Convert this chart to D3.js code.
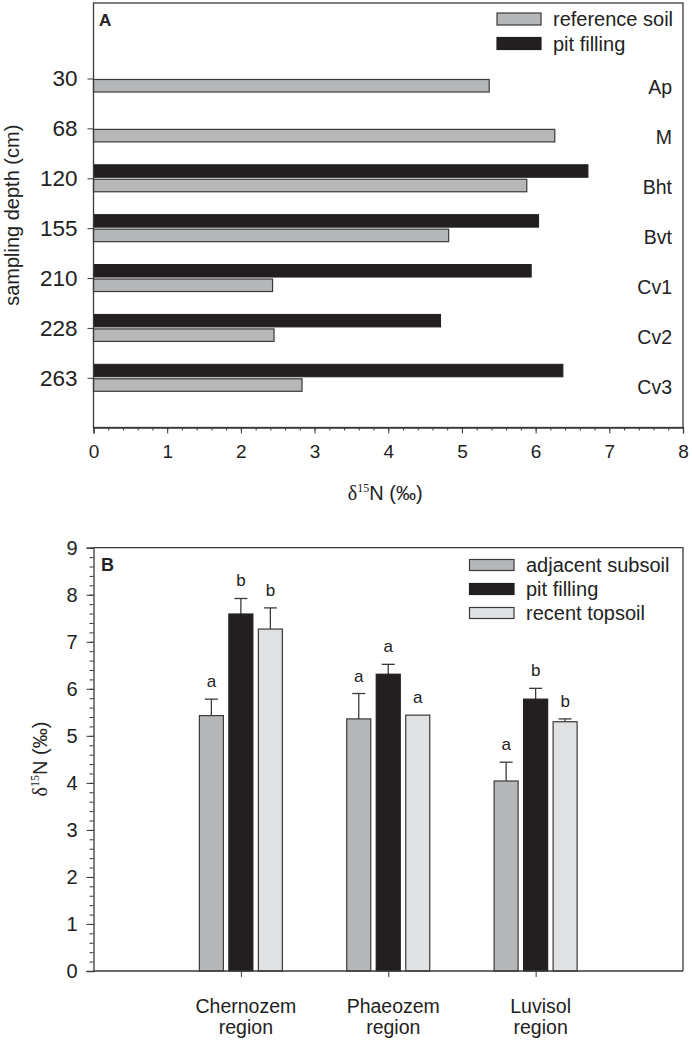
<!DOCTYPE html>
<html>
<head>
<meta charset="utf-8">
<script src="https://cdn.jsdelivr.net/npm/d3@7"></script>
<style>
  body { margin: 0; background: #fff; }
  svg { display: block; font-family: "Liberation Sans", Arial, sans-serif; }
</style>
</head>
<body>
<svg id="chart" width="692" height="1043"></svg>
<script>
// ---------- Panel A data ----------
const depths = ["30", "68", "120", "155", "210", "228", "263"];
const horizons = ["Ap", "M", "Bht", "Bvt", "Cv1", "Cv2", "Cv3"];
const referenceSoil = [5.37, 6.26, 5.88, 4.82, 2.43, 2.45, 2.83];
const pitFillingA = [null, null, 6.71, 6.04, 5.94, 4.71, 6.37];
const xTicksA = [0, 1, 2, 3, 4, 5, 6, 7, 8];
const legendA = ["reference soil", "pit filling"];

// ---------- Panel B data ----------
const regions = [["Chernozem", "region"], ["Phaeozem", "region"], ["Luvisol", "region"]];
const seriesB = ["adjacent subsoil", "pit filling", "recent topsoil"];
const adjacentSubsoil = [5.43, 5.36, 4.04];
const adjacentSubsoilErr = [0.35, 0.54, 0.40];
const pitFillingB = [7.59, 6.31, 5.78];
const pitFillingBErr = [0.33, 0.21, 0.23];
const recentTopsoil = [7.27, 5.44, 5.30];
const recentTopsoilErr = [0.45, 0.0, 0.06];
const lettersAdjacent = ["a", "a", "a"];
const lettersPit = ["b", "a", "b"];
const lettersTopsoil = ["b", "a", "b"];
const yTicksB = [0, 1, 2, 3, 4, 5, 6, 7, 8, 9];

const GRAY = "#b5b7b9", BLACK = "#231f20", LIGHT = "#e0e1e3", STROKE = "#3a3a3a", TXT = "#222";
const SANS = "Liberation Sans, Arial, sans-serif", SERIF = "Liberation Serif, Times New Roman, serif";

const svg = d3.select("#chart");
svg.append("rect").attr("width", 692).attr("height", 1043).attr("fill", "#fff");

function deltaTitle(sel) {
  sel.append("tspan").attr("font-family", SERIF).text("δ");
  sel.append("tspan").attr("font-size", 12).attr("dy", -8).attr("font-family", SERIF).text("15");
  sel.append("tspan").attr("dy", 8).text("N (‰)");
}

// =============== Panel A ===============
const A = { left: 93.5, right: 683, top: 3, bottom: 427.5 };
const xA = d3.scaleLinear().domain([0, 8]).range([A.left, A.right]);
const yA = d3.scalePoint().domain(depths).range([78.5, 377.8]);
const gA = svg.append("g");
const barH = 12.5;

gA.selectAll("rect.ref").data(depths).join("rect")
  .attr("x", xA(0))
  .attr("y", d => yA(d) + 1)
  .attr("width", (d, i) => xA(referenceSoil[i]) - xA(0))
  .attr("height", barH)
  .attr("fill", GRAY).attr("stroke", STROKE).attr("stroke-width", 1.2);

gA.selectAll("rect.pit").data(depths.filter((d, i) => pitFillingA[i] != null)).join("rect")
  .attr("x", xA(0))
  .attr("y", d => yA(d) - 1 - barH)
  .attr("width", d => xA(pitFillingA[depths.indexOf(d)]) - xA(0))
  .attr("height", barH)
  .attr("fill", BLACK).attr("stroke", BLACK).attr("stroke-width", 1);

gA.append("rect").attr("x", A.left).attr("y", A.top)
  .attr("width", A.right - A.left).attr("height", A.bottom - A.top)
  .attr("fill", "none").attr("stroke", STROKE).attr("stroke-width", 1.3);

gA.append("g").attr("transform", `translate(0,${A.bottom})`)
  .call(d3.axisBottom(xA).tickValues(d3.range(0, 40.5, 1).map(v => v / 5)).tickSize(3).tickFormat(""))
  .call(g => g.select(".domain").remove())
  .call(g => g.selectAll("line").attr("stroke", STROKE));
gA.append("g").attr("transform", `translate(0,${A.bottom})`)
  .call(d3.axisBottom(xA).tickValues(xTicksA).tickSize(6).tickPadding(11).tickFormat(d3.format("d")))
  .call(g => g.select(".domain").attr("stroke", STROKE).attr("stroke-width", 1.3))
  .call(g => g.selectAll("line").attr("stroke", STROKE))
  .call(g => g.selectAll("text").attr("font-size", 19).attr("fill", TXT).attr("font-family", SANS));

gA.append("g").attr("transform", `translate(${A.left},0)`)
  .call(d3.axisLeft(yA).tickSize(6).tickPadding(10))
  .call(g => g.select(".domain").remove())
  .call(g => g.selectAll("line").attr("stroke", STROKE))
  .call(g => g.selectAll("text").attr("font-size", 22.5).attr("fill", TXT).attr("font-family", SANS));

gA.selectAll("text.hz").data(horizons).join("text")
  .attr("x", 672).attr("y", (d, i) => yA(depths[i]) + 9)
  .attr("dy", "0.35em").attr("text-anchor", "end")
  .attr("font-size", 19.5).attr("fill", TXT).text(d => d);

gA.append("text").attr("x", 99).attr("y", 26).attr("font-size", 17).attr("font-weight", "bold").attr("fill", TXT).text("A");

legendA.forEach((name, i) => {
  const y = 19 + i * 24.5;
  gA.append("rect").attr("x", 497).attr("y", y - 6).attr("width", 44).attr("height", 12)
    .attr("fill", i === 0 ? GRAY : BLACK).attr("stroke", i === 0 ? STROKE : BLACK).attr("stroke-width", 1.2);
  gA.append("text").attr("x", 553).attr("y", y).attr("dy", "0.35em")
    .attr("font-size", 20).attr("fill", TXT).text(name);
});

gA.append("text").attr("x", (A.left + A.right) / 2 - 3).attr("y", 500)
  .attr("text-anchor", "middle").attr("font-size", 20).attr("fill", TXT).call(deltaTitle);

gA.append("text").attr("transform", `translate(19,${(A.top + A.bottom) / 2}) rotate(-90)`)
  .attr("text-anchor", "middle").attr("font-size", 20).attr("fill", TXT).text("sampling depth (cm)");

// =============== Panel B ===============
const B = { left: 93.5, right: 683, top: 547.7, bottom: 971 };
const xB = d3.scalePoint().domain(regions.map(r => r[0])).range([B.left, B.right]).padding(1);
const xInner = d3.scaleBand().domain(seriesB).range([-41.5, 41.5]).paddingInner(0.186);
const yB = d3.scaleLinear().domain([0, 9]).range([B.bottom, B.top]);
const gB = svg.append("g");

const seriesData = [
  { name: seriesB[0], vals: adjacentSubsoil, err: adjacentSubsoilErr, letters: lettersAdjacent, fill: GRAY, stroke: STROKE },
  { name: seriesB[1], vals: pitFillingB, err: pitFillingBErr, letters: lettersPit, fill: BLACK, stroke: BLACK },
  { name: seriesB[2], vals: recentTopsoil, err: recentTopsoilErr, letters: lettersTopsoil, fill: LIGHT, stroke: STROKE }
];

seriesData.forEach(s => {
  const pts = regions.map((r, i) => ({ cx: xB(r[0]) + xInner(s.name), v: s.vals[i], e: s.err[i], l: s.letters[i] }));
  const bw = xInner.bandwidth();
  gB.selectAll(null).data(pts.filter(p => p.e > 0)).join("line")
    .attr("x1", p => p.cx + bw / 2).attr("x2", p => p.cx + bw / 2)
    .attr("y1", p => yB(p.v)).attr("y2", p => yB(p.v + p.e))
    .attr("stroke", STROKE).attr("stroke-width", 1.3);
  gB.selectAll(null).data(pts.filter(p => p.e > 0)).join("line")
    .attr("x1", p => p.cx + bw / 2 - 6.5).attr("x2", p => p.cx + bw / 2 + 6.5)
    .attr("y1", p => yB(p.v + p.e)).attr("y2", p => yB(p.v + p.e))
    .attr("stroke", STROKE).attr("stroke-width", 1.3);
  gB.selectAll(null).data(pts).join("rect")
    .attr("x", p => p.cx).attr("y", p => yB(p.v))
    .attr("width", bw).attr("height", p => yB(0) - yB(p.v))
    .attr("fill", s.fill).attr("stroke", s.stroke).attr("stroke-width", 1.2);
  gB.selectAll(null).data(pts).join("text")
    .attr("x", p => p.cx + bw / 2).attr("y", p => yB(p.v + p.e) - 12)
    .attr("text-anchor", "middle").attr("font-size", 17).attr("fill", TXT).text(p => p.l);
});

gB.append("path")
  .attr("d", `M${B.left},${B.top}H${B.right}V${B.bottom}`)
  .attr("fill", "none").attr("stroke", STROKE).attr("stroke-width", 1.3);

gB.append("g").attr("transform", `translate(${B.left},0)`)
  .call(d3.axisLeft(yB).tickValues(d3.range(0, 45.5, 1).map(v => v / 5)).tickSize(4).tickFormat(""))
  .call(g => g.select(".domain").remove())
  .call(g => g.selectAll("line").attr("stroke", STROKE));
gB.append("g").attr("transform", `translate(${B.left},0)`)
  .call(d3.axisLeft(yB).tickValues(yTicksB).tickSize(7).tickPadding(9).tickFormat(d3.format("d")))
  .call(g => g.select(".domain").attr("stroke", STROKE).attr("stroke-width", 1.3))
  .call(g => g.selectAll("line").attr("stroke", STROKE))
  .call(g => g.selectAll("text").attr("font-size", 20).attr("fill", TXT).attr("font-family", SANS));

gB.append("g").attr("transform", `translate(0,${B.bottom})`)
  .call(d3.axisBottom(xB).tickSize(6).tickFormat(""))
  .call(g => g.select(".domain").attr("stroke", STROKE).attr("stroke-width", 1.3).attr("d", `M${B.left},0H${B.right}`))
  .call(g => g.selectAll("line").attr("stroke", STROKE));

regions.forEach(r => {
  const t = gB.append("text").attr("x", xB(r[0]) + 5).attr("y", 1013)
    .attr("text-anchor", "middle").attr("font-size", 19.5).attr("fill", TXT);
  t.append("tspan").attr("x", xB(r[0]) + 5).text(r[0]);
  t.append("tspan").attr("x", xB(r[0]) + 5).attr("dy", 20.5).text(r[1]);
});

gB.append("text").attr("x", 101).attr("y", 571).attr("font-size", 18).attr("font-weight", "bold").attr("fill", TXT).text("B");

seriesData.forEach((s, i) => {
  const y = 565 + i * 24;
  gB.append("rect").attr("x", 469.5).attr("y", y - 5.5).attr("width", 44.5).attr("height", 11)
    .attr("fill", s.fill).attr("stroke", s.stroke).attr("stroke-width", 1.2);
  gB.append("text").attr("x", 526).attr("y", y).attr("dy", "0.35em")
    .attr("font-size", 20).attr("fill", TXT).text(s.name);
});

gB.append("text").attr("transform", `translate(47,759) rotate(-90)`)
  .attr("text-anchor", "middle").attr("font-size", 20).attr("fill", TXT).call(deltaTitle);
</script>
</body>
</html>
